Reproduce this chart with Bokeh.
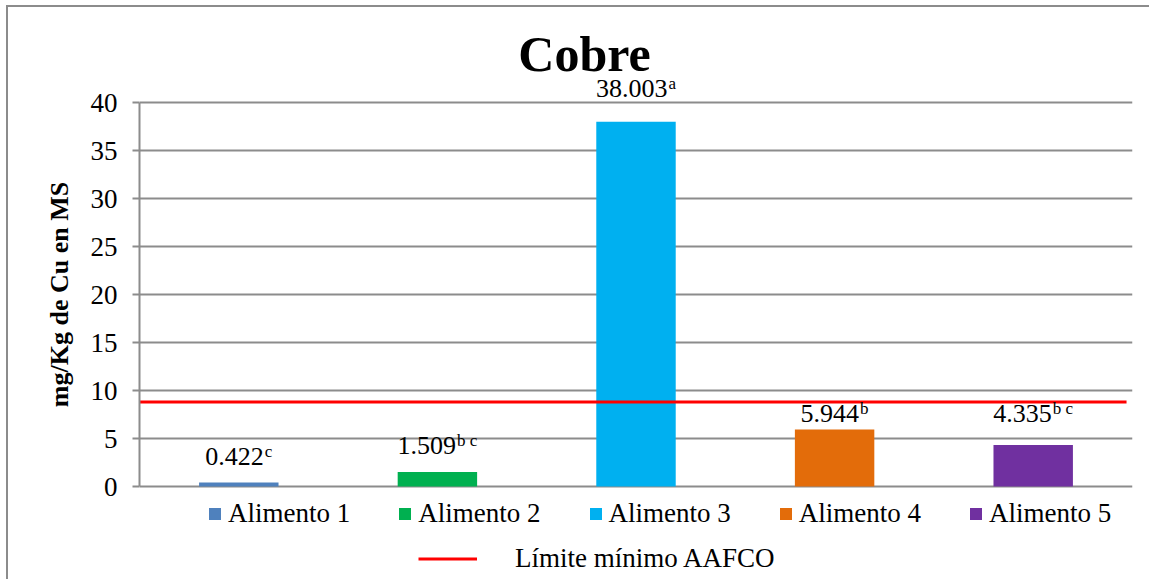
from bokeh.plotting import figure
from bokeh.models import (ColumnDataSource, Range1d, LabelSet, Label, Legend, LegendItem,
                          FixedTicker)
from bokeh.embed import file_html
from bokeh.resources import INLINE

# --- data -----------------------------------------------------------------
categories = ["Alimento 1", "Alimento 2", "Alimento 3", "Alimento 4", "Alimento 5"]
values = [0.422, 1.509, 38.003, 5.944, 4.335]
letters = ["c", "b c", "a", "b", "b c"]          # significance groups
limit_value = 8.8                               # AAFCO minimum (mg/Kg)
limit_label = "Límite mínimo AAFCO"
y_ticks = [0, 5, 10, 15, 20, 25, 30, 35, 40]

# --- styling --------------------------------------------------------------
bar_colors = ["#4F81BD", "#00B050", "#00B0F0", "#E36C0A", "#7030A0"]
label_gaps = [18, 18, 25, 7, 23]                # px between bar top and label baseline
GRID = "#8c8c8c"
SERIF = "Liberation Serif"
NUM_PX, SUP_PX, SUP_RAISE = 26, 17, 8
# the plotting area also hosts the title (above 40) and the legends (below 0)
Y_MIN, Y_MAX = -9.89, 49.9

# advance widths (em) of Liberation Serif, used to centre number + superscript
EM = {".": 0.25, " ": 0.25, "a": 0.444, "b": 0.5, "c": 0.444}
def text_width(s, px):
    return px * sum(EM.get(ch, 0.5) for ch in s)

num_text = [f"{v:.3f}" for v in values]
w_num = [text_width(t, NUM_PX) for t in num_text]
w_sup = [text_width(t, SUP_PX) for t in letters]
num_dx = [-(a + 1 + b) / 2 for a, b in zip(w_num, w_sup)]
sup_dx = [d + a + 1 for d, a in zip(num_dx, w_num)]
sup_dy = [g + SUP_RAISE for g in label_gaps]

xs = list(range(1, len(categories) + 1))
source = ColumnDataSource(dict(x=xs, top=values, name=categories, color=bar_colors,
                               num=num_text, sup=letters, num_dx=num_dx, sup_dx=sup_dx,
                               dy=label_gaps, sup_dy=sup_dy))

p = figure(width=1143, height=574, output_backend="svg", toolbar_location=None,
           x_range=Range1d(0.5, 5.5), y_range=Range1d(Y_MIN, Y_MAX),
           min_border_left=131, min_border_right=19, min_border_top=0,
           min_border_bottom=0)
p.styles = {"margin-left": "6px", "margin-top": "5px",
            "border-left": f"2px solid {GRID}", "border-top": f"2px solid {GRID}"}
p.outline_line_color = None
p.background_fill_color = "white"
p.border_fill_color = "white"

# axes and grid
p.xaxis.visible = False
p.xgrid.visible = False
yax = p.yaxis[0]
yax.ticker = FixedTicker(ticks=y_ticks)
yax.bounds = (0, 40)
yax.axis_label = "mg/Kg de Cu en MS"
yax.axis_label_text_font = SERIF
yax.axis_label_text_font_size = "26px"
yax.axis_label_text_font_style = "bold"
yax.axis_label_text_color = "black"
yax.axis_label_standoff = 14
yax.major_label_text_font = SERIF
yax.major_label_text_font_size = "27px"
yax.major_label_text_color = "black"
yax.major_label_standoff = 15
yax.axis_line_color = GRID
yax.axis_line_width = 2
yax.major_tick_line_color = GRID
yax.major_tick_line_width = 2
yax.major_tick_out = 7
yax.major_tick_in = 0
yax.minor_tick_line_color = None
p.ygrid.grid_line_color = GRID
p.ygrid.grid_line_width = 2

# bars
bars = p.vbar(x="x", top="top", bottom=0, width=0.4, fill_color="color",
              line_color=None, source=source)

# AAFCO minimum line
limit = p.line(x=[0.5, 5.47], y=[limit_value, limit_value], line_color="#FF0000",
               line_width=3)

# value labels: number plus raised significance letters
p.add_layout(LabelSet(x="x", y="top", text="num", x_offset="num_dx", y_offset="dy",
                      source=source, text_align="left", text_baseline="alphabetic",
                      text_font=SERIF, text_font_size=f"{NUM_PX}px", text_color="black"))
p.add_layout(LabelSet(x="x", y="top", text="sup", x_offset="sup_dx", y_offset="sup_dy",
                      source=source, text_align="left", text_baseline="alphabetic",
                      text_font=SERIF, text_font_size=f"{SUP_PX}px", text_color="black"))

# chart title
p.add_layout(Label(x=445, y=528, x_units="screen", y_units="screen", text="Cobre",
                   text_align="center", text_baseline="alphabetic",
                   text_font=SERIF, text_font_size="50px", text_font_style="bold",
                   text_color="black"))

# legends
leg_bars = Legend(items=[LegendItem(label=c, renderers=[bars], index=i)
                         for i, c in enumerate(categories)],
                  orientation="horizontal", location=(68, 52),
                  glyph_width=15, glyph_height=15, label_standoff=6, spacing=47,
                  label_height=30, padding=0, margin=0, border_line_color=None,
                  background_fill_alpha=0, label_text_font=SERIF,
                  label_text_font_size="27px", label_text_color="black")
leg_line = Legend(items=[LegendItem(label=limit_label, renderers=[limit])],
                  orientation="horizontal", location=(279, 7),
                  glyph_width=59, glyph_height=15, label_standoff=38,
                  label_height=30, padding=0, margin=0, border_line_color=None,
                  background_fill_alpha=0, label_text_font=SERIF,
                  label_text_font_size="27px", label_text_color="black")
p.add_layout(leg_bars, "center")
p.add_layout(leg_line, "center")

open("out.html", "w").write(file_html(p, INLINE))
